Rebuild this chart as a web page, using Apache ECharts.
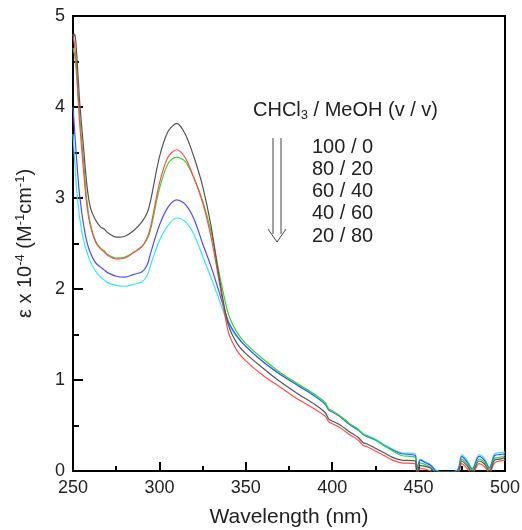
<!DOCTYPE html>
<html><head><meta charset="utf-8">
<script src="https://cdn.jsdelivr.net/npm/echarts@6/dist/echarts.min.js"></script>
<style>html,body{margin:0;padding:0;background:#fff}#c{width:522px;height:530px}</style>
</head><body><div id="c"></div>
<script>
var wavelengths = [250,251,252,253,254,256,258,260,263,266,268,270,275,280,285,290,293,295,300,305,310,315,320,325,330,335,340,345,350,360,370,380,390,396,398,400,405,410,415,418,420,425,430,435,440,448,449,451,454,457,460,463,470,473,475,478,481,485,488,491,494,497,500];
var s100_0 = [4.75,4.80,4.62,4.32,4.02,3.58,3.15,2.90,2.76,2.68,2.66,2.62,2.57,2.58,2.64,2.74,2.84,2.98,3.45,3.73,3.82,3.70,3.45,3.13,2.68,2.08,1.60,1.40,1.29,1.13,0.98,0.85,0.73,0.64,0.57,0.55,0.50,0.43,0.37,0.31,0.30,0.25,0.20,0.15,0.12,0.11,-0.02,0.06,0.05,0.03,-0.03,-0.05,-0.05,-0.01,0.11,0.06,-0.01,0.11,0.08,0.00,0.12,0.13,0.15];
var s80_20 = [4.80,4.66,4.45,4.08,3.78,3.32,2.92,2.70,2.52,2.44,2.41,2.37,2.33,2.34,2.40,2.47,2.57,2.69,3.16,3.45,3.53,3.44,3.22,2.95,2.56,2.04,1.52,1.32,1.21,1.05,0.92,0.79,0.68,0.60,0.54,0.52,0.47,0.40,0.34,0.28,0.27,0.22,0.17,0.12,0.09,0.08,-0.05,0.03,0.02,0.00,-0.05,-0.06,-0.06,-0.03,0.08,0.03,-0.03,0.08,0.05,-0.02,0.09,0.11,0.12];
var s60_40 = [4.65,4.56,4.36,4.10,3.86,3.42,2.98,2.72,2.53,2.45,2.42,2.38,2.34,2.35,2.40,2.47,2.55,2.66,3.10,3.38,3.45,3.40,3.22,2.97,2.62,2.14,1.72,1.52,1.40,1.23,1.08,0.96,0.84,0.75,0.68,0.66,0.60,0.52,0.46,0.40,0.39,0.34,0.28,0.22,0.17,0.15,0.00,0.09,0.07,0.04,-0.02,-0.04,-0.04,0.00,0.13,0.08,0.01,0.13,0.10,0.02,0.14,0.15,0.17];
var s40_60 = [4.00,3.72,3.45,3.20,3.00,2.72,2.52,2.40,2.29,2.24,2.21,2.18,2.14,2.13,2.16,2.19,2.27,2.40,2.70,2.90,2.98,2.93,2.77,2.50,2.24,1.94,1.64,1.48,1.37,1.20,1.06,0.94,0.82,0.73,0.67,0.65,0.59,0.51,0.45,0.40,0.38,0.34,0.28,0.23,0.19,0.17,0.02,0.12,0.09,0.06,0.00,-0.02,-0.02,0.02,0.16,0.10,0.02,0.16,0.12,0.03,0.17,0.18,0.19];
var s20_80 = [3.70,3.40,3.12,2.92,2.76,2.55,2.41,2.30,2.20,2.13,2.10,2.07,2.04,2.03,2.05,2.08,2.15,2.27,2.53,2.70,2.78,2.74,2.60,2.36,2.12,1.86,1.61,1.47,1.37,1.20,1.06,0.95,0.83,0.74,0.68,0.66,0.60,0.52,0.46,0.41,0.39,0.35,0.29,0.24,0.20,0.19,0.03,0.13,0.10,0.07,0.01,-0.01,-0.01,0.03,0.18,0.12,0.03,0.18,0.14,0.04,0.19,0.20,0.21];
var seriesNames = ['100 / 0','80 / 20','60 / 40','40 / 60','20 / 80'];
var seriesColors = ['#555555','#ff4d4d','#33d633','#4a4aff','#33e6ff'];
var xTicks = [250,300,350,400,450,500];
var yTicks = [0,1,2,3,4,5];

var allSeries = [s100_0,s80_20,s60_40,s40_60,s20_80];
var font = 'Liberation Sans, Arial, sans-serif';
var chart = echarts.init(document.getElementById('c'));
var series = allSeries.map(function(arr,i){
  return {
    name: seriesNames[i], type:'line', showSymbol:false, smooth:0.3, clip:true,
    lineStyle:{color:seriesColors[i], width:1.2}, itemStyle:{color:seriesColors[i]},
    data: wavelengths.map(function(w,j){return [w, arr[j]];}),
    z: 5 - i
  };
});
var legendGraphics = [{
  type:'text', x:253, y:110,
  style:{text:'CHCl{sub|3} / MeOH (v / v)', font:'20px '+font, fill:'#222', verticalAlign:'middle',
    rich:{sub:{fontSize:13, fontFamily:font, fill:'#222', padding:[11,0,0,0]}}}
}];
seriesNames.forEach(function(n,i){
  legendGraphics.push({type:'text', x:312, y:147 + i*22.3,
    style:{text:n, font:'20px '+font, fill:'#222', verticalAlign:'middle'}});
});
legendGraphics.push({type:'polyline', shape:{points:[[273,138],[273,234]]}, style:{stroke:'#444', lineWidth:1, fill:null}});
legendGraphics.push({type:'polyline', shape:{points:[[281,138],[281,234]]}, style:{stroke:'#444', lineWidth:1, fill:null}});
legendGraphics.push({type:'polyline', shape:{points:[[268,229],[277,242],[286,229]]}, style:{stroke:'#444', lineWidth:1, fill:null}});

chart.setOption({
  animation:false,
  backgroundColor:'#fff',
  grid:{left:73, right:17, top:16, bottom:59, show:true, borderColor:'#000', borderWidth:2, backgroundColor:'transparent', containLabel:false, outerBoundsMode:'none'},
  xAxis:{type:'value', min:xTicks[0], max:xTicks[xTicks.length-1], interval:50,
    name:'Wavelength (nm)', nameLocation:'middle', nameGap:36,
    nameTextStyle:{fontSize:21, fontFamily:font, color:'#222'},
    axisLine:{show:true, onZero:false, lineStyle:{color:'#000', width:2}},
    axisTick:{show:true, inside:true, length:9, lineStyle:{color:'#000', width:2}},
    minorTick:{show:true, splitNumber:2, length:5, lineStyle:{color:'#000', width:2}},
    axisLabel:{fontSize:18, fontFamily:font, color:'#222', margin:8},
    splitLine:{show:false}},
  yAxis:{type:'value', min:yTicks[0], max:yTicks[yTicks.length-1], interval:1,
    name:'ε x 10{sup|-4} (M{sup|-1}cm{sup|-1})', nameLocation:'middle', nameGap:36,
    nameTextStyle:{fontSize:20, fontFamily:font, color:'#222',
      rich:{sup:{fontSize:13, fontFamily:font, color:'#222', padding:[0,0,10,0]}}},
    axisLine:{show:true, onZero:false, lineStyle:{color:'#000', width:2}},
    axisTick:{show:true, inside:true, length:10, lineStyle:{color:'#000', width:2}},
    minorTick:{show:true, splitNumber:2, length:6, lineStyle:{color:'#000', width:2}},
    axisLabel:{fontSize:18, fontFamily:font, color:'#222', margin:8},
    splitLine:{show:false}},
  series: series,
  graphic: legendGraphics
});
</script></body></html>
